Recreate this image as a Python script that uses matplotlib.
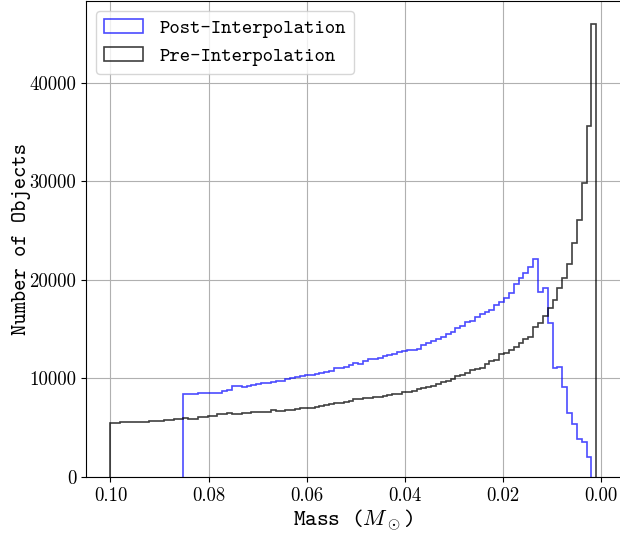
import numpy as np
import matplotlib
matplotlib.use("Agg")
import matplotlib.pyplot as plt

plt.rcParams["mathtext.fontset"] = "cm"

# histogram binning (mass in solar masses)
bin_lo, bin_hi, n_bins = 0.001, 0.1, 100

# counts per bin, lowest mass bin first
pre_counts = [
    46000, 35600, 29800, 26100, 23700, 21600, 20200, 19200, 18000, 17200,
    16300, 15600, 15200, 14200, 14000, 13600, 13200, 12900, 12600, 12500,
    11900, 11800, 11500, 11100, 11000, 10860, 10590, 10350, 10250, 9980,
    9780, 9670, 9400, 9240, 9140, 9060, 8930, 8760, 8660, 8600,
    8460, 8390, 8320, 8220, 8150, 8120, 8020, 7980, 7950, 7890,
    7750, 7650, 7540, 7480, 7410, 7310, 7240, 7140, 7040, 7040,
    6970, 6900, 6800, 6800, 6670, 6730, 6800, 6630, 6570, 6570,
    6630, 6460, 6530, 6390, 6390, 6460, 6400, 6360, 6190, 6190,
    6120, 6120, 5890, 5890, 5960, 5860, 5860, 5800, 5800, 5710,
    5710, 5710, 5610, 5610, 5610, 5550, 5550, 5550, 5520, 5480,
]

# post-interpolation only fills bins 1..84
post_first, post_last = 1, 84
post_counts = [
    2000, 3580, 3820, 5350, 6460, 9170, 11200, 11100, 15600,
    19150, 18800, 22100, 21350, 20700, 20170, 19590, 18650, 18140, 17800,
    17460, 16950, 16780, 16540, 16270, 15870, 15770, 15330, 15090, 14750,
    14510, 14240, 13980, 13840, 13630, 13400, 12960, 12890, 12890, 12820,
    12690, 12480, 12380, 12280, 12050, 11980, 11940, 11810, 11470, 11540,
    11370, 11200, 11030, 11030, 10790, 10690, 10520, 10450, 10350, 10320,
    10250, 10120, 10080, 9910, 9780, 9780, 9610, 9510, 9510, 9410,
    9340, 9240, 9170, 9240, 9240, 8800, 8730, 8560, 8490, 8530,
    8560, 8490, 8460, 8420, 8390,
]

edges = np.linspace(bin_lo, bin_hi, n_bins + 1)
centres = 0.5 * (edges[:-1] + edges[1:])

fig = plt.figure(figsize=(6.2, 5.33), dpi=100)
ax = fig.add_axes([0.139, 0.105, 0.862, 0.893])

ax.hist(centres[post_first:post_last + 1], bins=edges[post_first:post_last + 2],
        weights=post_counts, histtype="step", color="blue", alpha=0.7,
        lw=1.2, label="Post-Interpolation")
ax.hist(centres, bins=edges, weights=pre_counts, histtype="step",
        color="black", alpha=0.75, lw=1.2, label="Pre-Interpolation")

ax.invert_xaxis()
ax.grid(True, color="#b0b0b0", lw=0.8)

for lab in ax.get_xticklabels() + ax.get_yticklabels():
    lab.set_family("cmr10")
    lab.set_fontsize(13.5)

ax.set_xlabel(r"Mass ($M_\odot$)", family="cmtt10", fontsize=16, labelpad=2)
ax.set_ylabel("Number of Objects", family="cmtt10", fontsize=15.5, labelpad=-1)
ax.legend(loc="upper left", prop={"family": "cmtt10", "size": 14.2})

fig.savefig("out.png", dpi=100)
